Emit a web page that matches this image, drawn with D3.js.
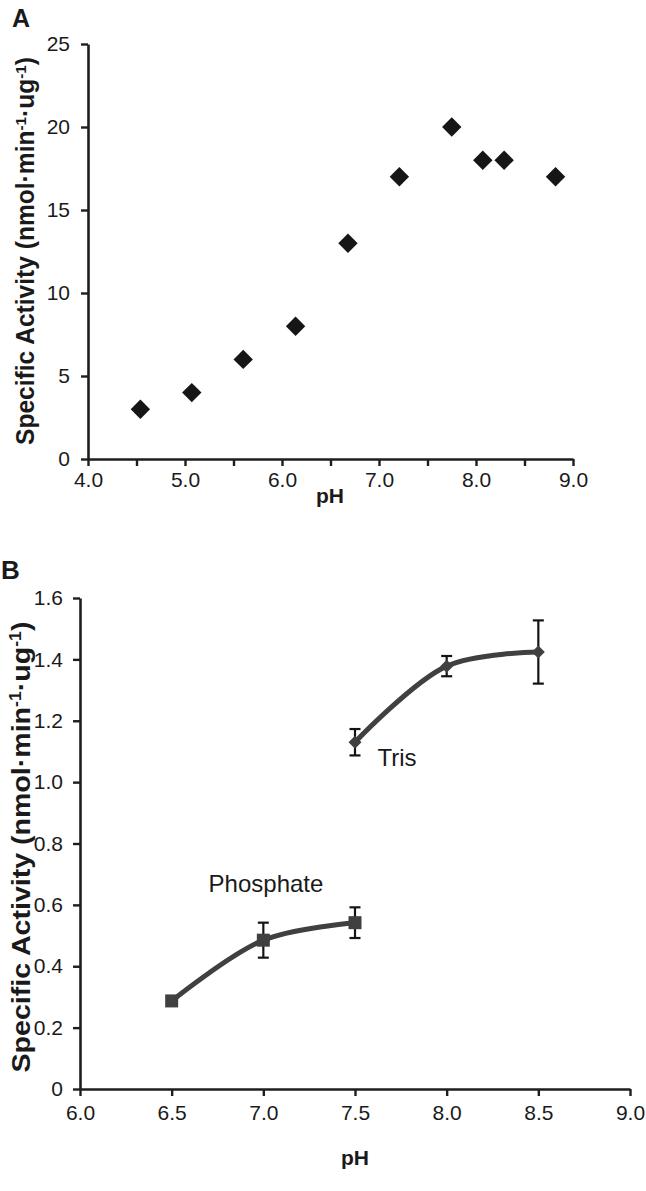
<!DOCTYPE html>
<html>
<head>
<meta charset="utf-8">
<script src="https://cdn.jsdelivr.net/npm/d3@7"></script>
<style>
  html, body { margin: 0; padding: 0; background: #fff; }
  svg { display: block; }
  text { font-family: "Liberation Sans", Arial, sans-serif; fill: #1a1a1a; }
</style>
</head>
<body>
<svg id="chart" width="646" height="1191"></svg>
<script>
// ---------- Panel A data ----------
const phA = [4.54, 5.07, 5.60, 6.14, 6.68, 7.21, 7.75, 8.07, 8.29, 8.82];
const activityA = [3, 4, 6, 8, 13, 17, 20, 18, 18, 17];
const xTicksA = [4.0, 4.5, 5.0, 5.5, 6.0, 6.5, 7.0, 7.5, 8.0, 8.5, 9.0];
const yTicksA = [0, 5, 10, 15, 20, 25];

// ---------- Panel B data ----------
const phPhosphate = [6.5, 7.0, 7.5];
const phosphate = [0.287, 0.485, 0.542];
const phosphateErr = [0.01, 0.057, 0.05];
const phTris = [7.5, 8.0, 8.5];
const tris = [1.13, 1.378, 1.424];
const trisErr = [0.043, 0.033, 0.103];
const xTicksB = [6.0, 6.5, 7.0, 7.5, 8.0, 8.5, 9.0];
const yTicksB = [0, 0.2, 0.4, 0.6, 0.8, 1.0, 1.2, 1.4, 1.6];

const svg = d3.select("#chart");
svg.append("rect").attr("width", 646).attr("height", 1191).attr("fill", "#fff");

const axisColor = "#1e1e1e";
const tickFont = '"Liberation Sans", Arial, sans-serif';

function styleAxis(g, fontSize) {
  g.attr("font-size", null).attr("font-family", null);
  g.selectAll("path.domain").attr("stroke", axisColor).attr("stroke-width", 2.6);
  g.selectAll(".tick line").attr("stroke", axisColor).attr("stroke-width", 2.4);
  g.selectAll(".tick text").attr("fill", "#1a1a1a")
    .attr("font-family", tickFont)
    .attr("font-size", fontSize);
}

function yTitle(x, cy, len, size) {
  const t = svg.append("text")
    .attr("transform", `translate(${x},${cy}) rotate(-90)`)
    .attr("text-anchor", "middle")
    .style("font-weight", "bold")
    .style("font-size", size + "px")
    .attr("textLength", len)
    .attr("lengthAdjust", "spacingAndGlyphs");
  t.append("tspan").text("Specific Activity (nmol·min");
  t.append("tspan").attr("baseline-shift", "super").style("font-size", "62%").text("-1");
  t.append("tspan").text("·ug");
  t.append("tspan").attr("baseline-shift", "super").style("font-size", "62%").text("-1");
  t.append("tspan").text(")");
}

// ================= Panel A =================
const xA = d3.scaleLinear().domain([4, 9]).range([88, 573]);
const yA = d3.scaleLinear().domain([0, 25]).range([459, 44]);

const gxA = svg.append("g").attr("transform", `translate(0,${yA(0)})`)
  .call(d3.axisBottom(xA).tickValues(xTicksA).tickSize(7).tickSizeOuter(0).tickPadding(6)
    .tickFormat(d => (Math.abs(d - Math.round(d)) < 1e-9) ? d3.format(".1f")(d) : ""));
styleAxis(gxA, 21);

const gyA = svg.append("g").attr("transform", `translate(${xA(4)},0)`)
  .call(d3.axisLeft(yA).tickValues(yTicksA).tickSize(7).tickSizeOuter(0).tickPadding(11)
    .tickFormat(d3.format("d")));
styleAxis(gyA, 21);

svg.append("g").selectAll("path").data(phA.map((p, i) => [p, activityA[i]]))
  .join("path")
  .attr("transform", d => `translate(${xA(d[0])},${yA(d[1])})`)
  .attr("d", "M0,-9.7L9.7,0L0,9.7L-9.7,0Z")
  .attr("fill", "#161616");

svg.append("text").attr("x", 330).attr("y", 503).attr("text-anchor", "middle")
  .style("font-weight", "bold").style("font-size", "21px").text("pH");
yTitle(34, 251, 388, 25);
svg.append("text").attr("x", 12).attr("y", 27)
  .style("font-weight", "bold").style("font-size", "25px").text("A");

// ================= Panel B =================
const xB = d3.scaleLinear().domain([6, 9]).range([80, 630]);
const yB = d3.scaleLinear().domain([0, 1.6]).range([1089, 598]);

const gxB = svg.append("g").attr("transform", `translate(0,${yB(0)})`)
  .call(d3.axisBottom(xB).tickValues(xTicksB).tickSize(7).tickSizeOuter(0).tickPadding(9)
    .tickFormat(d3.format(".1f")));
styleAxis(gxB, 21);

const gyB = svg.append("g").attr("transform", `translate(${xB(6)},0)`)
  .call(d3.axisLeft(yB).tickValues(yTicksB).tickSize(7).tickSizeOuter(0).tickPadding(10)
    .tickFormat(d => d === 0 ? "0" : d3.format(".1f")(d)));
styleAxis(gyB, 21);

const lineB = d3.line().x(d => xB(d[0])).y(d => yB(d[1])).curve(d3.curveCatmullRom.alpha(0.5));
const lineColor = "#404040";

function series(ph, vals, errs, marker) {
  const pts = ph.map((p, i) => [p, vals[i], errs[i]]);
  svg.append("path").datum(pts).attr("d", lineB)
    .attr("fill", "none").attr("stroke", lineColor).attr("stroke-width", 5)
    .attr("stroke-linecap", "round");
  const eb = svg.append("g").attr("stroke", "#141414").attr("stroke-width", 2.2);
  pts.forEach(d => {
    const x = xB(d[0]), y1 = yB(d[1] + d[2]), y2 = yB(d[1] - d[2]);
    eb.append("line").attr("x1", x).attr("x2", x).attr("y1", y1).attr("y2", y2);
    eb.append("line").attr("x1", x - 5.5).attr("x2", x + 5.5).attr("y1", y1).attr("y2", y1);
    eb.append("line").attr("x1", x - 5.5).attr("x2", x + 5.5).attr("y1", y2).attr("y2", y2);
  });
  svg.append("g").selectAll("path").data(pts).join("path")
    .attr("transform", d => `translate(${xB(d[0])},${yB(d[1])})`)
    .attr("d", marker)
    .attr("fill", lineColor);
}
series(phPhosphate, phosphate, phosphateErr, "M-6.5,-6.5H6.5V6.5H-6.5Z");
series(phTris, tris, trisErr, "M0,-6.5L6.5,0L0,6.5L-6.5,0Z");

svg.append("text").attr("x", 266).attr("y", 892).attr("text-anchor", "middle")
  .style("font-size", "24px").text("Phosphate");
svg.append("text").attr("x", 397).attr("y", 766).attr("text-anchor", "middle")
  .style("font-size", "24px").text("Tris");

svg.append("text").attr("x", 355).attr("y", 1165).attr("text-anchor", "middle")
  .style("font-weight", "bold").style("font-size", "21px").text("pH");
yTitle(30, 847, 451, 26);
svg.append("text").attr("x", 1).attr("y", 579)
  .style("font-weight", "bold").style("font-size", "26px").text("B");
</script>
</body>
</html>
